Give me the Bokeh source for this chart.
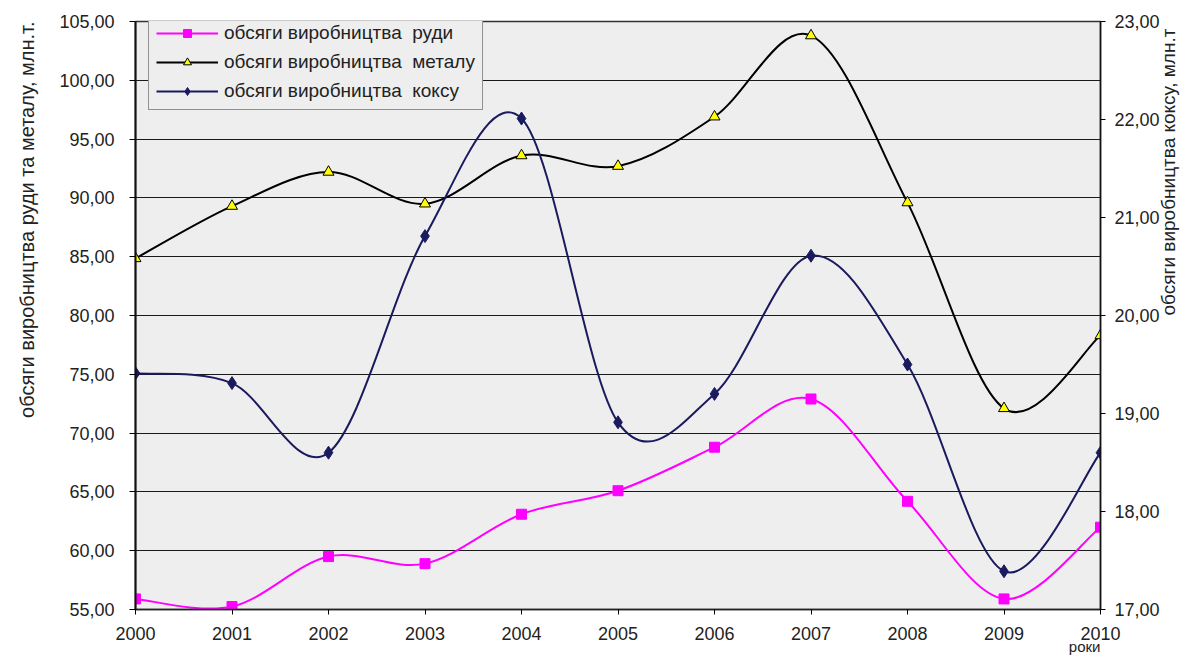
import numpy as np
from bokeh.plotting import figure
from bokeh.models import (Range1d, LinearAxis, FixedTicker, CustomJSTickFormatter,
                          Legend, LegendItem, ColumnDataSource)
from bokeh.embed import file_html
from bokeh.resources import INLINE

years = [2000, 2001, 2002, 2003, 2004, 2005, 2006, 2007, 2008, 2009, 2010]
ore = [55.9, 55.25, 59.5, 58.9, 63.1, 65.1, 68.8, 72.9, 64.2, 55.9, 62.0]
metal = [84.85, 89.3, 92.2, 89.5, 93.6, 92.7, 96.9, 103.8, 89.6, 72.1, 78.3]
coke = [19.41, 19.31, 18.60, 20.81, 22.01, 18.91, 19.20, 20.61, 19.50, 17.39, 18.60]

left_ticks = [55, 60, 65, 70, 75, 80, 85, 90, 95, 100, 105]
right_ticks = [17, 18, 19, 20, 21, 22, 23]

left_title = "обсяги виробництва руди та металу, млн.т."
right_title = "обсяги виробництва коксу, млн.т"
x_title = "роки"

FONT = "Liberation Sans"


def smooth(xs, ys, t=1.0 / 6.0):
    xs = np.asarray(xs, dtype=float)
    ys = np.asarray(ys, dtype=float)
    n = len(xs)
    d = dict(x0=[], y0=[], x1=[], y1=[], cx0=[], cy0=[], cx1=[], cy1=[])
    for i in range(n - 1):
        a = i - 1 if i > 0 else i
        b = i + 2 if i + 2 < n else i + 1
        d["x0"].append(xs[i]); d["y0"].append(ys[i])
        d["x1"].append(xs[i + 1]); d["y1"].append(ys[i + 1])
        d["cx0"].append(xs[i] + (xs[i + 1] - xs[a]) * t)
        d["cy0"].append(ys[i] + (ys[i + 1] - ys[a]) * t)
        d["cx1"].append(xs[i + 1] - (xs[b] - xs[i]) * t)
        d["cy1"].append(ys[i + 1] - (ys[b] - ys[i]) * t)
    return ColumnDataSource(d)


def title_axis(label, size, standoff, orientation, align, **kw):
    ax = LinearAxis(ticker=FixedTicker(ticks=[]), **kw)
    ax.axis_line_color = None
    ax.major_tick_line_color = None
    ax.minor_tick_line_color = None
    ax.major_tick_out = 0
    ax.major_tick_in = 0
    ax.major_label_standoff = 0
    ax.major_label_text_font_size = "1px"
    ax.axis_label = label
    ax.axis_label_text_font = FONT
    ax.axis_label_text_font_size = size
    ax.axis_label_text_font_style = "normal"
    ax.axis_label_text_color = "#222222"
    ax.axis_label_standoff = standoff
    ax.axis_label_orientation = orientation
    if "axis_label_align" in ax.properties():
        ax.axis_label_align = align
    return ax


p = figure(width=1186, height=668, frame_width=965, frame_height=588,
           min_border_left=135, min_border_right=86, min_border_top=21, min_border_bottom=59,
           x_range=Range1d(2000, 2010), y_range=Range1d(55, 105),
           output_backend="svg", toolbar_location=None)
p.extra_y_ranges = {"coke": Range1d(17, 23)}

p.background_fill_color = "#EEEEEE"
p.border_fill_color = "white"
p.outline_line_color = "#333333"
p.outline_line_width = 1.5

fmt = CustomJSTickFormatter(code="return tick.toFixed(2).replace('.', ',');")

# x axis
xax = p.xaxis[0]
xax.ticker = FixedTicker(ticks=years)
xax.formatter = CustomJSTickFormatter(code="return tick.toFixed(0);")
p.xgrid.visible = False
xax.major_label_text_font = FONT
xax.major_label_text_font_size = "18px"
xax.major_label_text_color = "#222222"
xax.major_tick_out = 5
xax.major_tick_in = 0
xax.minor_tick_line_color = None
xax.axis_line_color = "#222222"
xax.axis_line_width = 1.5
xax.major_label_standoff = 12

# left axis
yax = p.yaxis[0]
yax.ticker = FixedTicker(ticks=left_ticks)
yax.formatter = fmt
yax.major_label_text_font = FONT
yax.major_label_text_font_size = "18px"
yax.major_label_text_color = "#222222"
yax.major_tick_out = 6
yax.major_tick_in = 0
yax.minor_tick_line_color = None
yax.axis_line_color = "#111111"
yax.axis_line_width = 2
yax.major_label_standoff = 15
p.ygrid.ticker = FixedTicker(ticks=left_ticks)
p.ygrid.grid_line_color = "#1A1A1A"
p.ygrid.grid_line_width = 1

# right axis
raxis = LinearAxis(y_range_name="coke", ticker=FixedTicker(ticks=right_ticks), formatter=fmt)
raxis.major_label_text_font = FONT
raxis.major_label_text_font_size = "18px"
raxis.major_label_text_color = "#222222"
raxis.major_tick_out = 5
raxis.major_tick_in = 0
raxis.minor_tick_line_color = None
raxis.axis_line_color = "#111111"
raxis.axis_line_width = 1.5
raxis.major_label_standoff = 9
p.add_layout(raxis, "right")

# axis titles (label-only axes)
p.add_layout(title_axis(left_title, "20px", 30, np.pi / 2, "end"), "left")
p.add_layout(title_axis(right_title, "19px", 6, np.pi / 2, "center", y_range_name="coke"), "right")
p.add_layout(title_axis(x_title, "15px", 4, 0.0, "end"), "below")

# series
src_metal = smooth(years, metal)
src_ore = smooth(years, ore)
src_coke = smooth(years, coke)

l_metal = p.bezier(x0="x0", y0="y0", x1="x1", y1="y1", cx0="cx0", cy0="cy0", cx1="cx1", cy1="cy1",
                   source=src_metal, line_color="black", line_width=2)
l_ore = p.bezier(x0="x0", y0="y0", x1="x1", y1="y1", cx0="cx0", cy0="cy0", cx1="cx1", cy1="cy1",
                 source=src_ore, line_color="#FF00FF", line_width=2)
l_coke = p.bezier(x0="x0", y0="y0", x1="x1", y1="y1", cx0="cx0", cy0="cy0", cx1="cx1", cy1="cy1",
                  source=src_coke, line_color="#1A1A5E", line_width=2, y_range_name="coke")

m_metal = p.scatter(years, metal, marker="triangle", size=11, fill_color="#FFFF00",
                    line_color="black", line_width=1)
m_ore = p.scatter(years, ore, marker="square", size=10, fill_color="#FF00FF", line_color="#FF00FF")
m_coke = p.scatter(years, coke, marker="diamond", size=13, fill_color="#1A1A5E",
                   line_color="#1A1A5E", y_range_name="coke")

legend = Legend(items=[
    LegendItem(label="обсяги виробництва  руди", renderers=[l_ore, m_ore]),
    LegendItem(label="обсяги виробництва  металу", renderers=[l_metal, m_metal]),
    LegendItem(label="обсяги виробництва  коксу", renderers=[l_coke, m_coke]),
], location=(13, 499), margin=0, padding=7, spacing=7,
    glyph_width=62, glyph_height=20, label_height=20, label_standoff=6,
    label_text_font=FONT, label_text_font_size="19px", label_text_color="#222222",
    background_fill_color="#EEEEEE", background_fill_alpha=1.0,
    border_line_color="#333333", border_line_width=1)
p.add_layout(legend)

open("out.html", "w").write(file_html(p, INLINE))
